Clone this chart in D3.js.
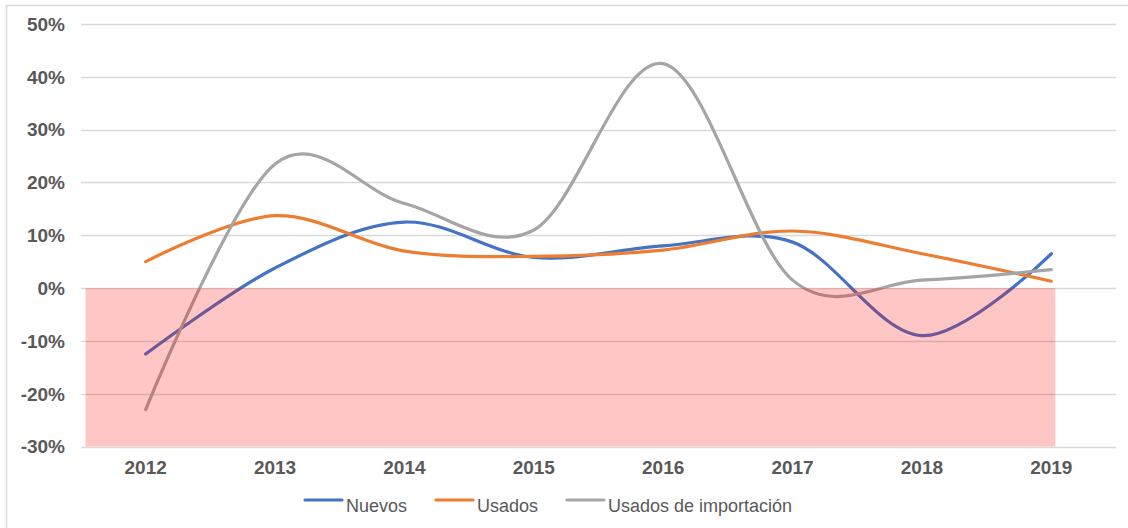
<!DOCTYPE html>
<html><head><meta charset="utf-8">
<script src="https://cdn.jsdelivr.net/npm/d3@7"></script>
<style>body{margin:0;background:#fff}svg{display:block;font-family:"Liberation Sans",Arial,sans-serif}</style>
</head><body><svg id="c" width="1128" height="528"></svg>
<script>
const years = ["2012","2013","2014","2015","2016","2017","2018","2019"];
const nuevos = [-12.5, 3.8, 12.5, 5.8, 8.0, 8.7, -9.0, 6.5];
const usados = [5.0, 13.7, 7.0, 6.0, 7.2, 10.8, 6.5, 1.3];
const importacion = [-23.0, 23.5, 16.0, 11.0, 42.5, 1.5, 1.5, 3.5];
const yTicks = [-30, -20, -10, 0, 10, 20, 30, 40, 50];
const seriesNames = ["Nuevos", "Usados", "Usados de importación"];
const colors = ["#4472c4", "#ed7d31", "#a5a5a5"];
const shadeRange = [-30, 0];

const svg = d3.select("#c");
const x = d3.scalePoint().domain(years).range([81, 1116]).padding(0.5);
const y = d3.scaleLinear().domain([-30, 50]).range([446.5, 24]);
const step = x.step();

// outer border
svg.append("path").attr("d","M6.5,528 V5.5 H1128").attr("fill","none").attr("stroke","#d9d9d9").attr("stroke-width",1.5);

// gridlines
svg.append("g").selectAll("line").data(yTicks).join("line")
  .attr("x1",81).attr("x2",1116).attr("y1",d=>Math.round(y(d))+0.5).attr("y2",d=>Math.round(y(d))+0.5)
  .attr("stroke","#d9d9d9").attr("stroke-width",1.5);

// y labels
svg.append("g").selectAll("text").data(yTicks).join("text")
  .attr("x",65).attr("y",d=>y(d)).attr("dy","0.36em").attr("text-anchor","end")
  .attr("font-size",19).attr("font-weight","bold").attr("fill","#595959").text(d=>d+"%");

// x labels
svg.append("g").selectAll("text").data(years).join("text")
  .attr("x",d=>x(d)).attr("y",474).attr("text-anchor","middle")
  .attr("font-size",19).attr("font-weight","bold").attr("fill","#595959").text(d=>d);

// lines
const allSeries = [nuevos, usados, importacion];
const line = d3.line().x((d,i)=>x(years[i])).y(d=>y(d)).curve(d3.curveCardinal.tension(0));
// draw gray first? Excel order: Nuevos, Usados, importacion on top
svg.append("g").selectAll("path").data(allSeries).join("path")
  .attr("d",d=>line(d)).attr("fill","none").attr("stroke",(d,i)=>colors[i])
  .attr("stroke-width",3.2).attr("stroke-linecap","round");

// shaded negative band
svg.append("rect")
  .attr("x", x(years[0]) - step*0.465)
  .attr("width", (x(years[years.length-1]) + 4) - (x(years[0]) - step*0.465))
  .attr("y", y(shadeRange[1]))
  .attr("height", y(shadeRange[0]) - y(shadeRange[1]))
  .attr("fill","#ff0000").attr("fill-opacity",0.225);

// legend
const legX = [305, 436, 567];
const lg = svg.append("g").selectAll("g").data(seriesNames).join("g");
lg.append("line").attr("x1",(d,i)=>legX[i]).attr("x2",(d,i)=>legX[i]+37).attr("y1",500).attr("y2",500)
  .attr("stroke",(d,i)=>colors[i]).attr("stroke-width",3.2).attr("stroke-linecap","round");
lg.append("text").attr("x",(d,i)=>legX[i]+41).attr("y",512).attr("font-size",18).attr("fill","#595959").text(d=>d);
</script></body></html>
